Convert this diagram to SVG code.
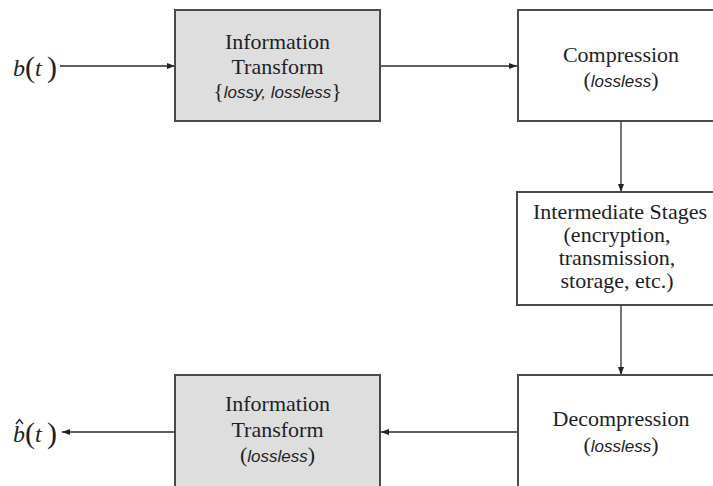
<svg xmlns="http://www.w3.org/2000/svg" width="713" height="486" viewBox="0 0 713 486">
<defs>
<marker id="ah" viewBox="0 0 8 6" refX="8" refY="3" markerWidth="8" markerHeight="6" markerUnits="userSpaceOnUse" orient="auto">
<path d="M0,0 L8,3 L0,6 Z" fill="#222"/>
</marker>
<style>
.box{stroke:#4a4a4a;stroke-width:2}
.gray{fill:#dedede}
.white{fill:#ffffff}
.t{font-family:"Liberation Serif","Times New Roman",serif;font-size:22px;fill:#1e1e28;text-anchor:middle}
.i{font-family:"Liberation Sans",Arial,sans-serif;font-style:italic;font-size:17px}
.m{font-family:"Liberation Serif","Times New Roman",serif;fill:#1e1e28}
.mi{font-style:italic;font-size:24px}
.mp{font-size:30px}
.c{stroke:#2a2a2a;stroke-width:1.3;fill:none;marker-end:url(#ah)}
</style>
</defs>
<rect width="713" height="486" fill="#ffffff"/>

<g id="connectors">
<line class="c" x1="60" y1="66" x2="175" y2="66"/>
<line class="c" x1="381" y1="66" x2="517" y2="66"/>
<line class="c" x1="621" y1="121" x2="621" y2="192"/>
<line class="c" x1="621" y1="305" x2="621" y2="375"/>
<line class="c" x1="518" y1="432" x2="381" y2="432"/>
<line class="c" x1="175" y1="432" x2="62" y2="432"/>
</g>

<g id="input">
<text class="m" y="76"><tspan class="mi" x="13">b</tspan><tspan class="mp" x="25" y="77">(</tspan><tspan class="mi" x="35" y="76">t</tspan><tspan class="mp" x="47" y="77">)</tspan></text>
</g>

<g id="output">
<text class="m" y="442"><tspan class="mi" x="13">b</tspan><tspan class="mp" x="25" y="443">(</tspan><tspan class="mi" x="35" y="442">t</tspan><tspan class="mp" x="47" y="443">)</tspan></text>
<path d="M16,424 L19.5,419.5 L23,424" fill="none" stroke="#1e1e28" stroke-width="1.3"/>
</g>

<g id="transform1">
<rect class="box gray" x="175" y="10" width="205" height="111"/>
<text class="t" x="277.5" y="49">Information</text>
<text class="t" x="277.5" y="74">Transform</text>
<text class="t" x="277.5" y="98">{<tspan class="i">lossy, lossless</tspan>}</text>
</g>

<g id="compression">
<rect class="box white" x="518" y="10" width="206" height="111"/>
<text class="t" x="621" y="62">Compression</text>
<text class="t" x="621" y="87">(<tspan class="i">lossless</tspan>)</text>
</g>

<g id="intermediate">
<rect class="box white" x="517" y="192" width="206" height="113"/>
<text class="t" x="620" y="219">Intermediate Stages</text>
<text class="t" x="617" y="242">(encryption,</text>
<text class="t" x="617" y="265">transmission,</text>
<text class="t" x="617" y="288">storage, etc.)</text>
</g>

<g id="decompression">
<rect class="box white" x="518" y="375" width="206" height="125"/>
<text class="t" x="621" y="426">Decompression</text>
<text class="t" x="621" y="452">(<tspan class="i">lossless</tspan>)</text>
</g>

<g id="transform2">
<rect class="box gray" x="175" y="375" width="205" height="125"/>
<text class="t" x="277.5" y="411">Information</text>
<text class="t" x="277.5" y="437">Transform</text>
<text class="t" x="277.5" y="462">(<tspan class="i">lossless</tspan>)</text>
</g>
</svg>
